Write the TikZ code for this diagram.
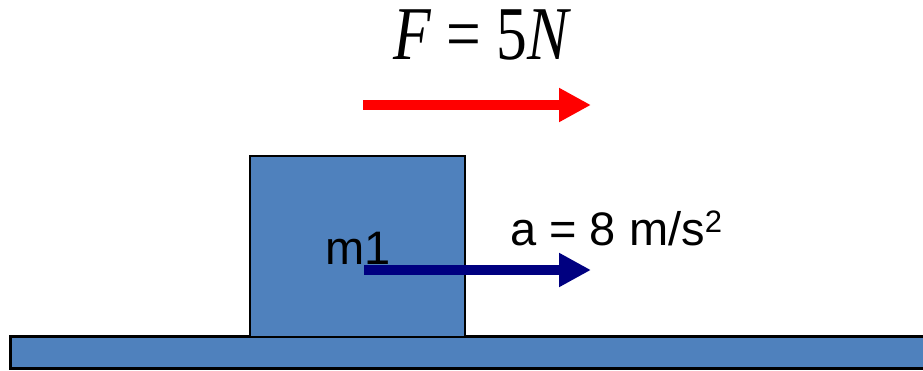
\documentclass[tikz,border=0pt]{standalone}
\usepackage{fontspec}
\setmainfont{Liberation Sans}
\newfontfamily\eqfont{Liberation Serif}
\usetikzlibrary{arrows.meta}
\definecolor{boxblue}{RGB}{79,129,189}
\definecolor{accnavy}{RGB}{0,0,128}
\definecolor{forcered}{RGB}{255,0,0}
\begin{document}
\begin{tikzpicture}[x=1pt,y=-1pt,
  solid/.style={fill=boxblue,draw=black},
  bigarrow/.style={line width=10pt,-{Triangle[length=32pt,width=32pt]}},
  lbl/.style={inner sep=0pt,anchor=base west,font=\fontsize{47}{47}\selectfont}]
\useasboundingbox (0,0) rectangle (923,371);
% ground
\fill[boxblue] (10,336) rectangle (923,368);
\draw[line width=3pt] (923,336) -- (10,336) -- (10,368) -- (923,368);
% block
\node[solid,line width=2pt,minimum width=215pt,minimum height=181pt,inner sep=0pt,anchor=north west] (block) at (249,155) {};
\node[lbl] (mlabel) at (325,265) {m1};
% acceleration arrow
\coordinate (a0) at (364,270);
\coordinate (a1) at (591,270);
\draw[bigarrow,accnavy] (a0) -- (a1);
\node[lbl] (alabel) at (510,246) {a = 8 m/s\raisebox{13pt}{\fontsize{31}{31}\selectfont 2}};
% force arrow
\coordinate (f0) at (363,105);
\coordinate (f1) at (591,105);
\draw[bigarrow,forcered] (f0) -- (f1);
\node[inner sep=0pt,anchor=base west,font=\eqfont\fontsize{76}{76}\selectfont] (flabel) at (393,60) {\scalebox{0.81}[1]{\textit{F} = 5\textit{N}}};
\end{tikzpicture}
\end{document}
